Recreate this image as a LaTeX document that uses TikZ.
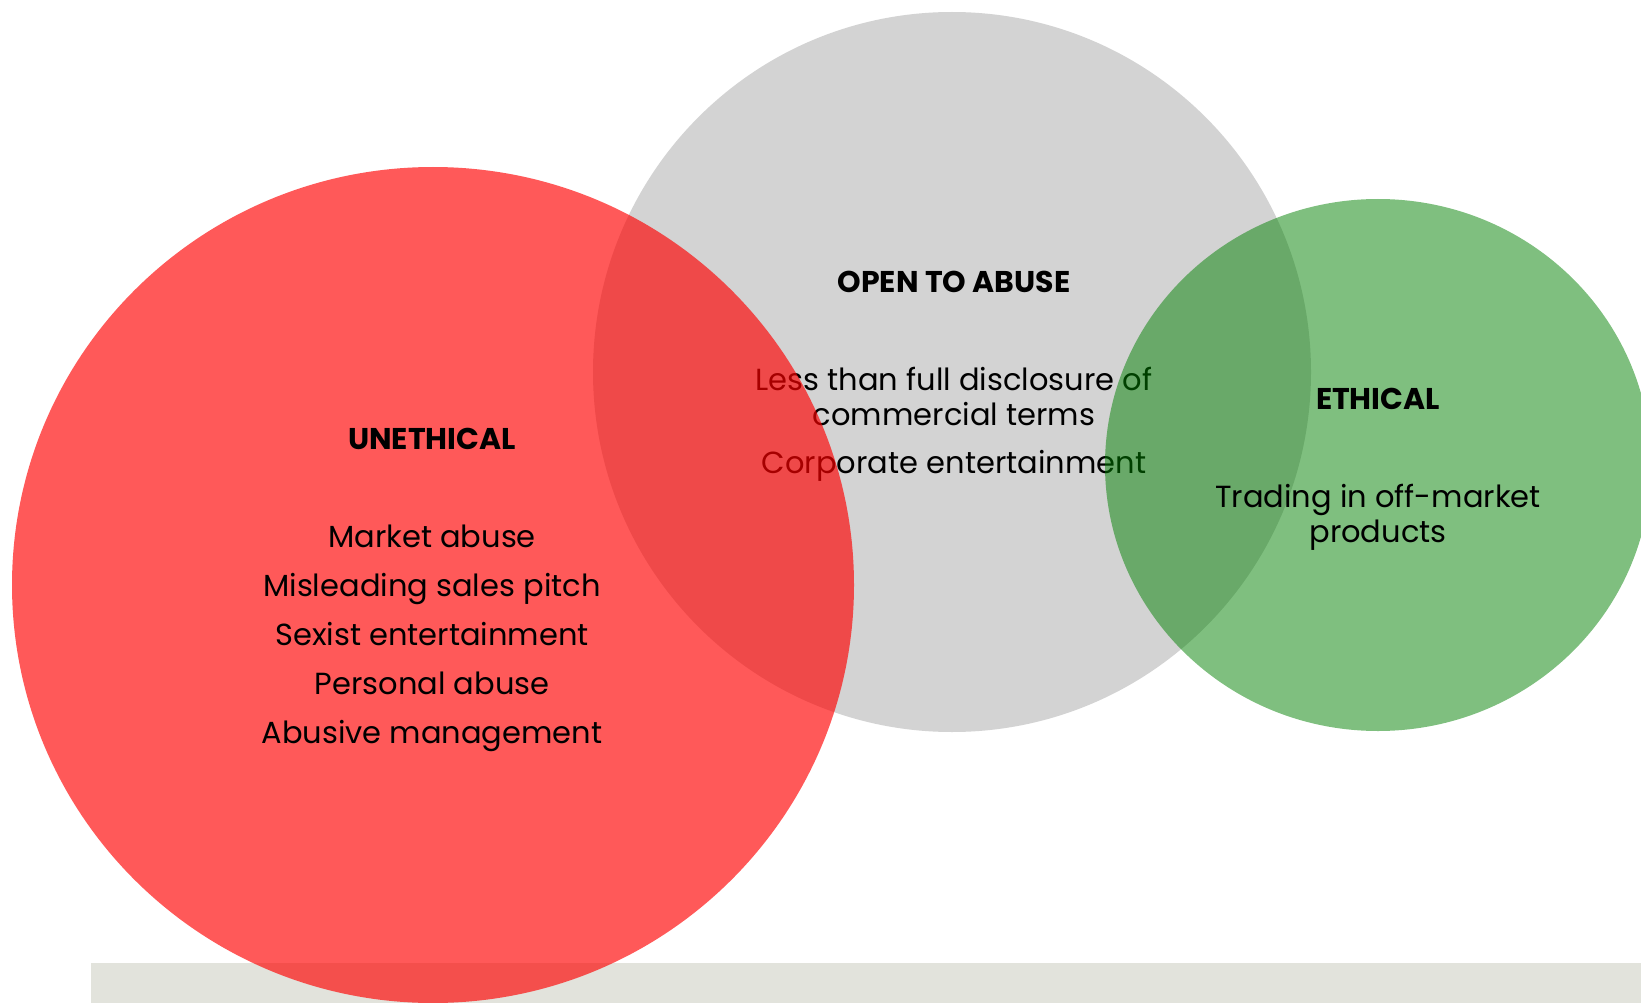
\documentclass[tikz,border=0pt]{standalone}
\usepackage{fontspec}
\setmainfont{Poppins}
\definecolor{greyfill}{RGB}{211,211,211}
\definecolor{redfill}{RGB}{255,0,0}
\definecolor{greenfill}{RGB}{0,128,0}
\definecolor{barfill}{RGB}{226,227,220}
\begin{document}
\begin{tikzpicture}[x=1pt,y=-1pt,
  heading/.style={font=\fontsize{30}{30}\selectfont\bfseries, anchor=base, inner sep=0pt},
  entry/.style={font=\fontsize{30.5}{30}\selectfont, anchor=base, inner sep=0pt}]
\useasboundingbox (0,0) rectangle (1641,1003);
\clip (0,0) rectangle (1641,1003);

% footer band
\fill[barfill] (91,963) rectangle (1641,1003);

% grey set: open to abuse
\fill[greyfill] (952,372) ellipse [x radius=359pt, y radius=360pt];
\node[heading] (open) at (954,292) {OPEN TO ABUSE};
\node[entry] (open1) at (954,390) {Less than full disclosure of};
\node[entry] (open2) at (954,425) {commercial terms};
\node[entry] (open3) at (954,473) {Corporate entertainment};

% translucent red and green sets laid over the grey one
\fill[redfill, opacity=0.65] (433,585) ellipse [x radius=421pt, y radius=418pt];
\fill[greenfill, opacity=0.5] (1378,465) ellipse [x radius=273pt, y radius=266pt];

% unethical
\node[heading] (uneth) at (432,449) {UNETHICAL};
\node[entry] (u1) at (432,547) {Market abuse};
\node[entry] (u2) at (432,596) {Misleading sales pitch};
\node[entry] (u3) at (432,645) {Sexist entertainment};
\node[entry] (u4) at (432,694) {Personal abuse};
\node[entry] (u5) at (432,743) {Abusive management};

% ethical
\node[heading] (eth) at (1378,409) {ETHICAL};
\node[entry] (e1) at (1378,507) {Trading in off-market};
\node[entry] (e2) at (1378,542) {products};
\end{tikzpicture}
\end{document}
